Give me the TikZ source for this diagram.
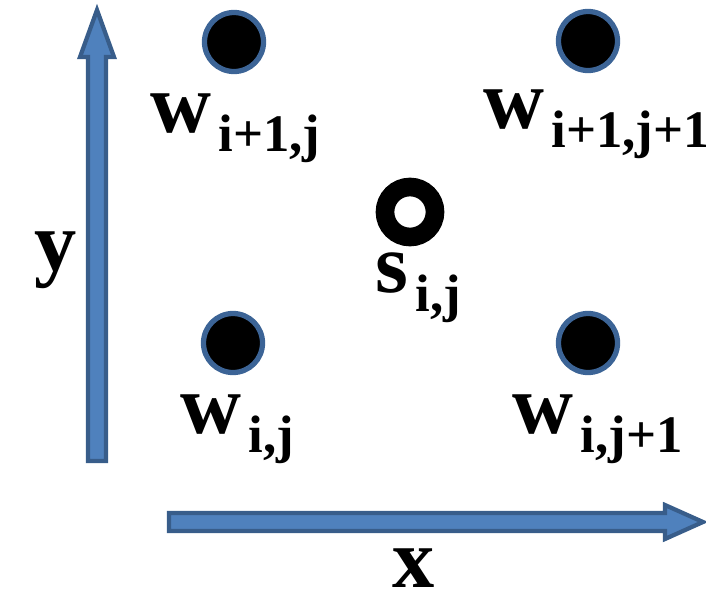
\documentclass[tikz,border=0pt]{standalone}
\usepackage{fontspec}
\setmainfont{Liberation Serif}
\usepackage{xcolor}
\usepackage{tikz}
\usetikzlibrary{positioning, calc}
\definecolor{axisfill}{RGB}{79, 129, 189}
\definecolor{axisdraw}{RGB}{56, 93, 138}
\definecolor{dotdraw}{RGB}{60, 100, 150}

% big letter with a lowered index
\newcommand{\gridlbl}[2]{{\fontsize{24}{24}\selectfont #1}\hspace{2pt}\raisebox{-5.6pt}{\fontsize{15}{15}\selectfont #2}}

\begin{document}
\begin{tikzpicture}[
    x=0.01cm, y=-0.01cm,
    axis/.style={fill=axisfill, draw=axisdraw, line width=1.2pt, line join=miter},
    wdot/.style={circle, fill=black, draw=dotdraw, line width=1.5pt, minimum size=0.59cm, inner sep=0pt},
    sring/.style={circle, draw=black, fill=white, line width=5.3pt, inner sep=0pt, minimum size=0.5cm},
    lbl/.style={anchor=base west, inner sep=0pt, font=\bfseries},
    axlbl/.style={anchor=base west, inner sep=0pt, font=\bfseries\fontsize{24}{24}\selectfont}
]
\useasboundingbox (0,0) rectangle (706,603);

% axes
\draw[axis] (88,461) -- (106,461) -- (106,57) -- (114,57) -- (97,10) -- (80,57) -- (88,57) -- cycle;
\draw[axis] (169,513) -- (665,513) -- (665,505) -- (703,522) -- (665,539) -- (665,531) -- (169,531) -- cycle;

\node[axlbl] (ylbl) at (34,270) {y};
\node[axlbl] (xlbl) at (392,587) {x};

% grid points
\node[wdot] (wtl) at (234,42) {};
\node[wdot] (wtr) at (588,41) {};
\node[wdot] (wbl) at (233,343) {};
\node[wdot] (wbr) at (588,343) {};
\node[sring] (sij) at (410,212) {};

\node[lbl] (lwtl) at (150,132) {\gridlbl{w}{i+1,j}};
\node[lbl] (lwtr) at (483,128) {\gridlbl{w}{i+1,j+1}};
\node[lbl] (lsij) at (375,292) {\gridlbl{s}{i,j}};
\node[lbl] (lwbl) at (180,433) {\gridlbl{w}{i,j}};
\node[lbl] (lwbr) at (512,433) {\gridlbl{w}{i,j+1}};

\end{tikzpicture}
\end{document}
